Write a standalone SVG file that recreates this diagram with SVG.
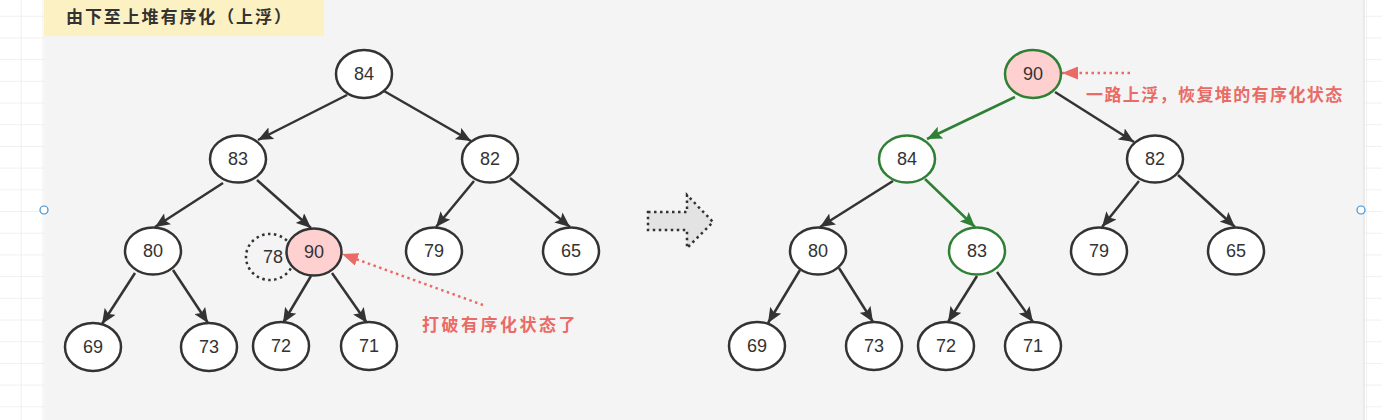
<svg xmlns="http://www.w3.org/2000/svg" width="1382" height="420" viewBox="0 0 1382 420">
<defs>
<pattern id="grid" width="21.7" height="21.7" patternUnits="userSpaceOnUse" x="0" y="-5">
<path d="M21.7,0 V21.7 M0,21.7 H21.7" fill="none" stroke="#ebebeb" stroke-width="1.5"/>
</pattern>
<marker id="ah" viewBox="0 0 15 13" refX="15" refY="6.5" markerWidth="15" markerHeight="13" markerUnits="userSpaceOnUse" orient="auto">
<path d="M0,0 L15,6.5 L0,13 L3,6.5 z" fill="#333"/>
</marker>
<marker id="ahg" viewBox="0 0 15 13" refX="15" refY="6.5" markerWidth="15" markerHeight="13" markerUnits="userSpaceOnUse" orient="auto">
<path d="M0,0 L15,6.5 L0,13 L3,6.5 z" fill="#2f8035"/>
</marker>
<marker id="ahr" viewBox="0 0 16 13" refX="16" refY="6.5" markerWidth="16" markerHeight="13" markerUnits="userSpaceOnUse" orient="auto">
<path d="M0,0 L16,6.5 L0,13 z" fill="#ea6b66"/>
</marker>
<style>
.n ellipse{fill:#fff;stroke:#333;stroke-width:2.5}
.n.pink ellipse{fill:#ffd0d0}
.n.green ellipse{stroke:#2f8035}
.n text{font-family:"Liberation Sans",Arial,sans-serif;font-size:18px;fill:#333;text-anchor:middle;dominant-baseline:central}
.e path{fill:none;stroke:#333;stroke-width:2.5;marker-end:url(#ah)}
.e path.g{stroke:#2f8035;marker-end:url(#ahg)}
.e path.r{stroke:#ea6b66;stroke-width:2.5;stroke-dasharray:2.5 3.5;marker-end:url(#ahr)}
.cn{font-family:"Noto Sans CJK SC",sans-serif;font-weight:bold;font-size:17px;dominant-baseline:central}
</style>
</defs>
<rect width="1382" height="420" fill="#fff"/>
<rect width="1382" height="420" fill="url(#grid)"/>
<rect x="44" y="0" width="1320" height="420" fill="#f4f4f4"/>
<line x1="1364" y1="0" x2="1364" y2="420" stroke="#e6e6e6" stroke-width="1.5"/>
<g id="title">
<rect x="44" y="0" width="280" height="36" fill="#fcf1c2"/>
<text x="66" y="15" class="cn" fill="#333" letter-spacing="1.9">由下至上堆有序化（上浮）</text>
</g>
<g id="connectors" class="e">
<path d="M347,95 L258,140"/>
<path d="M384,91 L471,141"/>
<path d="M223,183 L155,227"/>
<path d="M257,180 L311,228"/>
<path d="M474,181 L436,227"/>
<path d="M510,178 L570,227"/>
<path d="M135,273 L102,324"/>
<path d="M173,270 L208,323"/>
<path d="M311,276 L283,323"/>
<path d="M332,273 L367,323"/>
<path d="M483,305 L342,254" class="r"/>
<path class="g" d="M1015,97 L927,139"/>
<path d="M1055,92 L1134,142"/>
<path d="M893,181 L820,227"/>
<path class="g" d="M925,179 L975,227"/>
<path d="M1139,181 L1102,227"/>
<path d="M1178,175 L1235,227"/>
<path d="M800,270 L768,323"/>
<path d="M839,268 L873,322"/>
<path d="M977,276 L948,322"/>
<path d="M997,272 L1033,322"/>
<path d="M1130,73 L1062,73" class="r"/>
</g>
<g id="L84" class="n"><ellipse cx="364" cy="74" rx="28" ry="24"/><text x="364" y="74">84</text></g>
<g id="L83" class="n"><ellipse cx="238" cy="159" rx="28" ry="23.5"/><text x="238" y="159">83</text></g>
<g id="L82" class="n"><ellipse cx="490" cy="159" rx="28" ry="23.5"/><text x="490" y="159">82</text></g>
<g id="L80" class="n"><ellipse cx="153" cy="251" rx="28" ry="23.5"/><text x="153" y="251">80</text></g>
<g id="L78" class="n"><ellipse cx="270" cy="257" rx="24" ry="23" style="fill:none;stroke-dasharray:2.5 3.5"/><text x="273" y="257">78</text></g>
<g id="L90" class="n pink"><ellipse cx="314" cy="252" rx="27.5" ry="23.5"/><text x="314" y="252">90</text></g>
<g id="L79" class="n"><ellipse cx="434" cy="251" rx="28" ry="23.5"/><text x="434" y="251">79</text></g>
<g id="L65" class="n"><ellipse cx="571" cy="251" rx="28" ry="23.5"/><text x="571" y="251">65</text></g>
<g id="L69" class="n"><ellipse cx="93" cy="347" rx="28" ry="24"/><text x="93" y="347">69</text></g>
<g id="L73" class="n"><ellipse cx="209" cy="347" rx="28" ry="24"/><text x="209" y="347">73</text></g>
<g id="L72" class="n"><ellipse cx="281" cy="346" rx="28" ry="24"/><text x="281" y="346">72</text></g>
<g id="L71" class="n"><ellipse cx="369" cy="346" rx="28" ry="24"/><text x="369" y="346">71</text></g>
<g id="bigArrow">
<path d="M648,212 H687 V195 L713,222 L687,248 V230 H648 Z" fill="#e3e3e3" stroke="#333" stroke-width="2.5" stroke-dasharray="2.5 3.5"/>
</g>
<g id="R90" class="n pink green"><ellipse cx="1033" cy="74" rx="28" ry="24"/><text x="1033" y="74">90</text></g>
<g id="R84" class="n green"><ellipse cx="907" cy="159" rx="28" ry="23.5"/><text x="907" y="159">84</text></g>
<g id="R82" class="n"><ellipse cx="1155" cy="159" rx="28" ry="23.5"/><text x="1155" y="159">82</text></g>
<g id="R80" class="n"><ellipse cx="818" cy="251" rx="28" ry="23.5"/><text x="818" y="251">80</text></g>
<g id="R83" class="n green"><ellipse cx="977" cy="251" rx="28" ry="23.5"/><text x="977" y="251">83</text></g>
<g id="R79" class="n"><ellipse cx="1099" cy="251" rx="28" ry="23.5"/><text x="1099" y="251">79</text></g>
<g id="R65" class="n"><ellipse cx="1236" cy="251" rx="28" ry="23.5"/><text x="1236" y="251">65</text></g>
<g id="R69" class="n"><ellipse cx="757" cy="346" rx="28" ry="24"/><text x="757" y="346">69</text></g>
<g id="R73" class="n"><ellipse cx="874" cy="346" rx="28" ry="24"/><text x="874" y="346">73</text></g>
<g id="R72" class="n"><ellipse cx="946" cy="346" rx="28" ry="24"/><text x="946" y="346">72</text></g>
<g id="R71" class="n"><ellipse cx="1033" cy="346" rx="28" ry="24"/><text x="1033" y="346">71</text></g>
<g id="label1"><text x="422" y="323" class="cn" fill="#ea6b66" letter-spacing="2.5">打破有序化状态了</text></g>
<g id="label2"><text x="1086" y="93" class="cn" fill="#ea6b66" letter-spacing="1.4">一路上浮，恢复堆的有序化状态</text></g>
<g id="handles" fill="#fff" stroke="#3d8fd1" stroke-width="1.2">
<circle cx="44" cy="210" r="4"/>
<circle cx="1361" cy="210" r="4"/>
</g>
</svg>
